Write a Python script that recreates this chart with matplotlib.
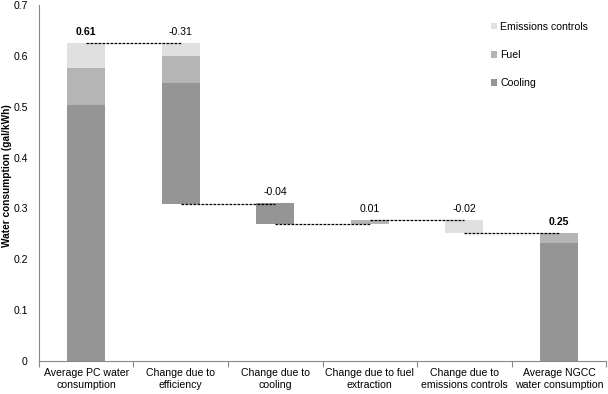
import matplotlib.pyplot as plt
import numpy as np

# data (gal/kWh)
categories = ["Average PC water\nconsumption", "Change due to\nefficiency", "Change due to\ncooling",
              "Change due to fuel\nextraction", "Change due to\nemissions controls", "Average NGCC\nwater consumption"]
base = [0, 0.309, 0.269, 0.269, 0.252, 0]
cooling = [0.504, 0.237, 0.042, 0, 0, 0.231]
fuel = [0.072, 0.054, 0, 0.009, 0, 0.021]
emissions = [0.050, 0.026, 0, 0, 0.026, 0]
steps = [0.61, -0.31, -0.04, 0.01, -0.02, 0.25]
step_labels = ["0.61", "-0.31", "-0.04", "0.01", "-0.02", "0.25"]
is_total = [True, False, False, False, False, True]

plt.rcParams['font.family'] = ['Liberation Sans', 'DejaVu Sans']
font_size = 7.6
fig = plt.figure(figsize=(6.08, 3.94), dpi=100)
ax = plt.axes([0.064, 0.084, 0.933, 0.903])

colors = {'Cooling': '#959595', 'Fuel': '#b5b5b5', 'Emissions controls': '#e0e0e0'}
x = np.arange(len(categories))
w = 0.4
b1 = np.array(base)
ax.bar(x, cooling, w, bottom=b1, color=colors['Cooling'], label='Cooling')
b2 = b1 + np.array(cooling)
ax.bar(x, fuel, w, bottom=b2, color=colors['Fuel'], label='Fuel')
b3 = b2 + np.array(fuel)
ax.bar(x, emissions, w, bottom=b3, color=colors['Emissions controls'], label='Emissions controls')
tops = b3 + np.array(emissions)

# connector lines
levels = []
for i in range(len(steps)):
	if is_total[i] or steps[i] > 0:
		levels.append(tops[i])
	else:
		levels.append(base[i])
for i in range(len(steps) - 1):
	ax.plot([x[i], x[i + 1]], [levels[i], levels[i]], color='black', ls=(0, (2.2, 1.0)), lw=0.9)

# value labels
for i in range(len(steps)):
	ax.text(x[i], tops[i] + 0.021, step_labels[i], ha='center', va='center', fontsize=font_size,
	        fontweight='bold' if is_total[i] else 'normal')

ax.set_xlim(-0.5, len(categories) - 0.5)
ax.set_ylim(0, 0.7)
ax.set_yticks(np.arange(0, 0.71, 0.1))
ax.set_yticklabels(["0"] + ["%.1f" % v for v in np.arange(0.1, 0.71, 0.1)], fontsize=font_size)
ax.set_xticks(x)
ax.set_xticklabels(categories, fontsize=font_size, linespacing=1.25)
ax.set_xticks(np.arange(-0.5, len(categories), 1), minor=True)
ax.tick_params(axis='x', which='major', length=0, pad=5)
ax.tick_params(axis='x', which='minor', length=4, width=0.8, color='#888888', direction='out')
ax.tick_params(axis='y', length=0, pad=8)
ax.set_ylabel("Water consumption (gal/kWh)", fontsize=7.3, fontweight='bold')
ax.yaxis.set_label_coords(-0.047, 0.52)

ax.spines['top'].set_visible(False)
ax.spines['right'].set_visible(False)
ax.spines['left'].set_color('#888888')
ax.spines['bottom'].set_color('#888888')

h, l = ax.get_legend_handles_labels()
ax.legend(h[::-1], l[::-1], loc='upper left', bbox_to_anchor=(0.78, 0.98), frameon=False,
          fontsize=font_size, handlelength=0.6, handleheight=0.6, handletextpad=0.3, labelspacing=1.72)

plt.savefig("out.png", dpi=100)
